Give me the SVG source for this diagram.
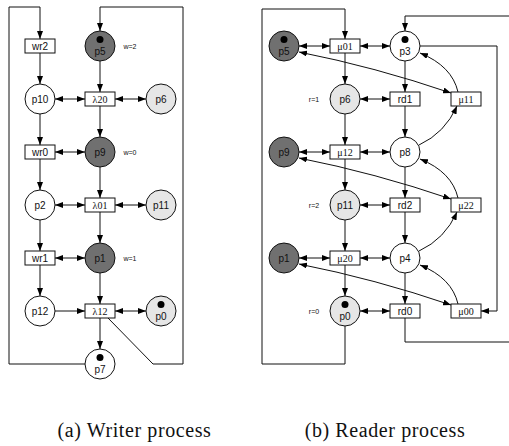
<svg xmlns="http://www.w3.org/2000/svg" width="509" height="446" viewBox="0 0 509 446">
  <style>
    .pl { stroke: #111; stroke-width: 1; }
    .w { fill: #fff; }
    .d { fill: #707070; }
    .l { fill: #e6e6e6; }
    .tr { fill: #fff; stroke: #111; stroke-width: 1; }
    .tok { fill: #000; }
    .lab { font-family: "Liberation Sans", Arial, sans-serif; font-size: 10px; text-anchor: middle; fill: #111; }
    .glab { font-family: "Liberation Serif", "Times New Roman", serif; font-size: 10px; text-anchor: middle; fill: #111; }
    .small { font-family: "Liberation Sans", Arial, sans-serif; font-size: 7px; text-anchor: middle; fill: #111; }
    .cap { font-family: "Liberation Serif", "Times New Roman", serif; font-size: 20px; letter-spacing: 0.6px; text-anchor: middle; fill: #111; }
    .e { fill: none; stroke: #111; stroke-width: 1; }
    .a1 { marker-end: url(#ah); }
    .a2 { marker-start: url(#ah); marker-end: url(#ah); }
  </style>
  <defs>
    <marker id="ah" markerUnits="userSpaceOnUse" markerWidth="8" markerHeight="6" refX="8" refY="3" orient="auto-start-reverse">
      <path d="M0,0 L8,3 L0,6 z" fill="#000"/>
    </marker>
  </defs>
  <rect width="509" height="446" fill="#fff"/>

  <!-- connectors -->
  <g id="connectors">
    <!-- writer -->
    <path class="e a1" d="M85,364 H9 V7 H40 V39"/>
    <path class="e a1" d="M108,318 L153,364 H183 V7 H100 V31"/>
    <path class="e a1" d="M40,53 V84"/>
    <path class="e a1" d="M100,61 V92"/>
    <path class="e a2" d="M55,99 H85"/>
    <path class="e a2" d="M115,99 H146"/>
    <path class="e a1" d="M100,106 V137"/>
    <path class="e a1" d="M40,114 V145"/>
    <path class="e a2" d="M55,152 H85"/>
    <path class="e a1" d="M40,159 V190"/>
    <path class="e a1" d="M100,167 V198"/>
    <path class="e a2" d="M55,205 H85"/>
    <path class="e a2" d="M115,205 H146"/>
    <path class="e a1" d="M40,220 V251"/>
    <path class="e a1" d="M100,212 V243"/>
    <path class="e a2" d="M55,258 H85"/>
    <path class="e a1" d="M40,265 V296"/>
    <path class="e a1" d="M100,273 V304"/>
    <path class="e a1" d="M55,311 H85"/>
    <path class="e a2" d="M115,311 H146"/>
    <path class="e a1" d="M100,318 V349"/>

    <!-- reader -->
    <path class="e a1" d="M345,326 V364 H262 V9 H345 V39"/>
    <path class="e" d="M405,318 V342 H509"/>
    <path class="e a1" d="M509,16 H405 V31"/>
    <path class="e a1" d="M420,46 H497 V311 H481"/>
    <path class="e a2" d="M299,46 H330"/>
    <path class="e a2" d="M360,46 H390"/>
    <path class="e a1" d="M345,53 V84"/>
    <path class="e a1" d="M405,61 V92"/>
    <path class="e a2" d="M360,99 H390"/>
    <path class="e a1" d="M405,106 V137"/>
    <path class="e a1" d="M345,114 V145"/>
    <path class="e a2" d="M299,152 H330"/>
    <path class="e a2" d="M360,152 H390"/>
    <path class="e a1" d="M345,159 V190"/>
    <path class="e a1" d="M405,167 V198"/>
    <path class="e a2" d="M360,205 H390"/>
    <path class="e a1" d="M405,212 V243"/>
    <path class="e a1" d="M345,220 V251"/>
    <path class="e a2" d="M299,258 H330"/>
    <path class="e a2" d="M360,258 H390"/>
    <path class="e a1" d="M345,265 V296"/>
    <path class="e a1" d="M405,273 V304"/>
    <path class="e a2" d="M360,311 H390"/>

    <!-- curved arcs to the mu transitions -->
    <path class="e a2" d="M299,52 Q375,67 451,93"/>
    <path class="e a1" d="M458,92 Q452,66 420,53"/>
    <path class="e a1" d="M419,145 Q445,133 457,106"/>
    <path class="e a2" d="M299,158 Q375,173 451,199"/>
    <path class="e a1" d="M458,198 Q452,172 420,159"/>
    <path class="e a1" d="M419,251 Q445,239 457,212"/>
    <path class="e a2" d="M299,264 Q375,279 451,305"/>
    <path class="e a1" d="M458,304 Q452,278 420,265"/>
  </g>

  <!-- writer process nodes -->
  <g id="w-wr2"><rect class="tr" x="25" y="39" width="30" height="14"/><text class="lab" x="40" y="49.5">wr2</text></g>
  <g id="w-p5"><circle class="pl d" cx="100" cy="46" r="15"/><circle class="tok" cx="100" cy="39.5" r="3.5"/><text class="lab" x="100" y="55">p5</text></g>
  <text class="small" x="130" y="48.5">w=2</text>
  <g id="w-p10"><circle class="pl w" cx="40" cy="99" r="15"/><text class="lab" x="40" y="102.5">p10</text></g>
  <g id="w-l20"><rect class="tr" x="85" y="92" width="30" height="14"/><text class="glab" x="100" y="102.5">λ20</text></g>
  <g id="w-p6"><circle class="pl l" cx="161" cy="99" r="15"/><text class="lab" x="161" y="102.5">p6</text></g>
  <g id="w-wr0"><rect class="tr" x="25" y="145" width="30" height="14"/><text class="lab" x="40" y="155.5">wr0</text></g>
  <g id="w-p9"><circle class="pl d" cx="100" cy="152" r="15"/><text class="lab" x="100" y="155.5">p9</text></g>
  <text class="small" x="130" y="154.5">w=0</text>
  <g id="w-p2"><circle class="pl w" cx="40" cy="205" r="15"/><text class="lab" x="40" y="208.5">p2</text></g>
  <g id="w-l01"><rect class="tr" x="85" y="198" width="30" height="14"/><text class="glab" x="100" y="208.5">λ01</text></g>
  <g id="w-p11"><circle class="pl l" cx="161" cy="205" r="15"/><text class="lab" x="161" y="208.5">p11</text></g>
  <g id="w-wr1"><rect class="tr" x="25" y="251" width="30" height="14"/><text class="lab" x="40" y="261.5">wr1</text></g>
  <g id="w-p1"><circle class="pl d" cx="100" cy="258" r="15"/><text class="lab" x="100" y="261.5">p1</text></g>
  <text class="small" x="130" y="260.5">w=1</text>
  <g id="w-p12"><circle class="pl w" cx="40" cy="311" r="15"/><text class="lab" x="40" y="314.5">p12</text></g>
  <g id="w-l12"><rect class="tr" x="85" y="304" width="30" height="14"/><text class="glab" x="100" y="314.5">λ12</text></g>
  <g id="w-p0"><circle class="pl l" cx="161" cy="311" r="15"/><circle class="tok" cx="161" cy="304.5" r="3.5"/><text class="lab" x="161" y="320">p0</text></g>
  <g id="w-p7"><circle class="pl w" cx="100" cy="364" r="15"/><circle class="tok" cx="100" cy="357.5" r="3.5"/><text class="lab" x="100" y="373">p7</text></g>

  <!-- reader process nodes -->
  <g id="r-p5"><circle class="pl d" cx="284" cy="46" r="15"/><circle class="tok" cx="284" cy="39.5" r="3.5"/><text class="lab" x="284" y="55">p5</text></g>
  <g id="r-m01"><rect class="tr" x="330" y="39" width="30" height="14"/><text class="glab" x="345" y="49.5">μ01</text></g>
  <g id="r-p3"><circle class="pl w" cx="405" cy="46" r="15"/><circle class="tok" cx="405" cy="39.5" r="3.5"/><text class="lab" x="405" y="55">p3</text></g>
  <text class="small" x="314" y="101.5">r=1</text>
  <g id="r-p6"><circle class="pl l" cx="345" cy="99" r="15"/><text class="lab" x="345" y="102.5">p6</text></g>
  <g id="r-rd1"><rect class="tr" x="390" y="92" width="30" height="14"/><text class="lab" x="405" y="102.5">rd1</text></g>
  <g id="r-m11"><rect class="tr" x="451" y="92" width="30" height="14"/><text class="glab" x="466" y="102.5">μ11</text></g>
  <g id="r-p9"><circle class="pl d" cx="284" cy="152" r="15"/><text class="lab" x="284" y="155.5">p9</text></g>
  <g id="r-m12"><rect class="tr" x="330" y="145" width="30" height="14"/><text class="glab" x="345" y="155.5">μ12</text></g>
  <g id="r-p8"><circle class="pl w" cx="405" cy="152" r="15"/><text class="lab" x="405" y="155.5">p8</text></g>
  <text class="small" x="314" y="207.5">r=2</text>
  <g id="r-p11"><circle class="pl l" cx="345" cy="205" r="15"/><text class="lab" x="345" y="208.5">p11</text></g>
  <g id="r-rd2"><rect class="tr" x="390" y="198" width="30" height="14"/><text class="lab" x="405" y="208.5">rd2</text></g>
  <g id="r-m22"><rect class="tr" x="451" y="198" width="30" height="14"/><text class="glab" x="466" y="208.5">μ22</text></g>
  <g id="r-p1"><circle class="pl d" cx="284" cy="258" r="15"/><text class="lab" x="284" y="261.5">p1</text></g>
  <g id="r-m20"><rect class="tr" x="330" y="251" width="30" height="14"/><text class="glab" x="345" y="261.5">μ20</text></g>
  <g id="r-p4"><circle class="pl w" cx="405" cy="258" r="15"/><text class="lab" x="405" y="261.5">p4</text></g>
  <text class="small" x="314" y="313.5">r=0</text>
  <g id="r-p0"><circle class="pl l" cx="345" cy="311" r="15"/><circle class="tok" cx="345" cy="304.5" r="3.5"/><text class="lab" x="345" y="320">p0</text></g>
  <g id="r-rd0"><rect class="tr" x="390" y="304" width="30" height="14"/><text class="lab" x="405" y="314.5">rd0</text></g>
  <g id="r-m00"><rect class="tr" x="451" y="304" width="30" height="14"/><text class="glab" x="466" y="314.5">μ00</text></g>

  <!-- captions -->
  <text class="cap" x="134.5" y="437">(a) Writer process</text>
  <text class="cap" x="385" y="437">(b) Reader process</text>
</svg>
